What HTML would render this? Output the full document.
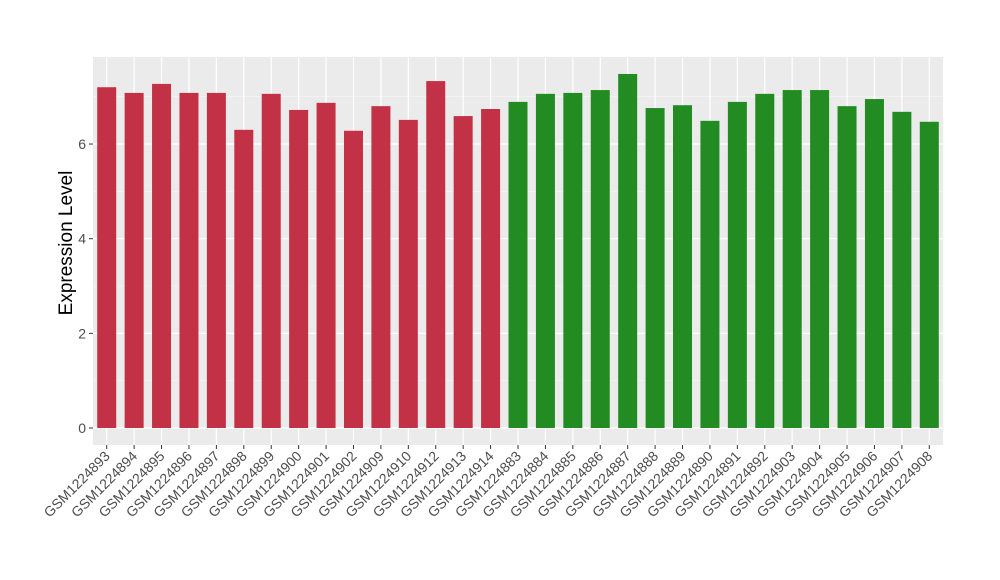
<!DOCTYPE html>
<html><head><meta charset="utf-8"><style>body{margin:0;background:#fff}svg{display:block;font-family:"Liberation Sans",Arial,sans-serif}</style></head>
<body>
<svg id="chart" width="1000" height="580"></svg>
<script>
const categories=["GSM1224893","GSM1224894","GSM1224895","GSM1224896","GSM1224897","GSM1224898","GSM1224899","GSM1224900","GSM1224901","GSM1224902","GSM1224909","GSM1224910","GSM1224912","GSM1224913","GSM1224914","GSM1224883","GSM1224884","GSM1224885","GSM1224886","GSM1224887","GSM1224888","GSM1224889","GSM1224890","GSM1224891","GSM1224892","GSM1224903","GSM1224904","GSM1224905","GSM1224906","GSM1224907","GSM1224908"];
const values=[7.2,7.08,7.27,7.08,7.08,6.3,7.06,6.72,6.87,6.28,6.8,6.51,7.33,6.59,6.74,6.89,7.06,7.08,7.14,7.48,6.76,6.82,6.49,6.89,7.06,7.14,7.14,6.8,6.95,6.68,6.47];
const groups=["a","a","a","a","a","a","a","a","a","a","a","a","a","a","a","b","b","b","b","b","b","b","b","b","b","b","b","b","b","b","b"];
const yTicks=[0,2,4,6];
const NS="http://www.w3.org/2000/svg";
const svg=document.getElementById("chart");
const L=93,R=943,T=57,B=445;
const y0=428,yPer=47.33;
const yScale=v=>y0-v*yPer;
const step=(R-L)/categories.length;
const xScale=i=>L+step*(i+0.5);
function mk(tag,attrs,parent){const e=document.createElementNS(NS,tag);for(const k in attrs)e.setAttribute(k,attrs[k]);(parent||svg).appendChild(e);return e;}
const bg=mk("rect",{x:L,y:T,width:R-L,height:B-T,fill:"#ebebeb"});


for(let v=1;v<8;v+=2){const y=yScale(v);if(y>T){const g=mk("line",{x1:L,x2:R,y1:y,y2:y,stroke:"#f5f5f5","stroke-width":0.6});}}
yTicks.forEach(v=>{const y=yScale(v);
const g=mk("line",{x1:L,x2:R,y1:y,y2:y,stroke:"#fff","stroke-width":1.2});
const tk=mk("line",{x1:L-4,x2:L,y1:y,y2:y,stroke:"#333"});
const t=mk("text",{x:L-7,y:y+5,"text-anchor":"end","font-size":14,fill:"#4d4d4d"});t.textContent=v;});
categories.forEach((c,i)=>{const x=xScale(i);
const g=mk("line",{x1:x,x2:x,y1:T,y2:B,stroke:"#fff","stroke-width":1.2});});
categories.forEach((c,i)=>{const x=xScale(i),w=19;
const r=mk("rect",{x:x-w/2,y:yScale(values[i]),width:w,height:yScale(0)-yScale(values[i]),fill:groups[i]==="a"?"#c33147":"#228b22"});

const tk=mk("line",{x1:x,x2:x,y1:B,y2:B+4,stroke:"#333"});
const t=mk("text",{x:x+4,y:B+12,"text-anchor":"end","font-size":14,fill:"#4d4d4d",transform:`rotate(-45 ${x+4} ${B+12})`});t.textContent=c;
});
const yt=mk("text",{x:72,y:(T+B)/2-8,"text-anchor":"middle","font-size":19,fill:"#000",transform:`rotate(-90 72 ${(T+B)/2-8})`});yt.textContent="Expression Level";

</script>
</body></html>
